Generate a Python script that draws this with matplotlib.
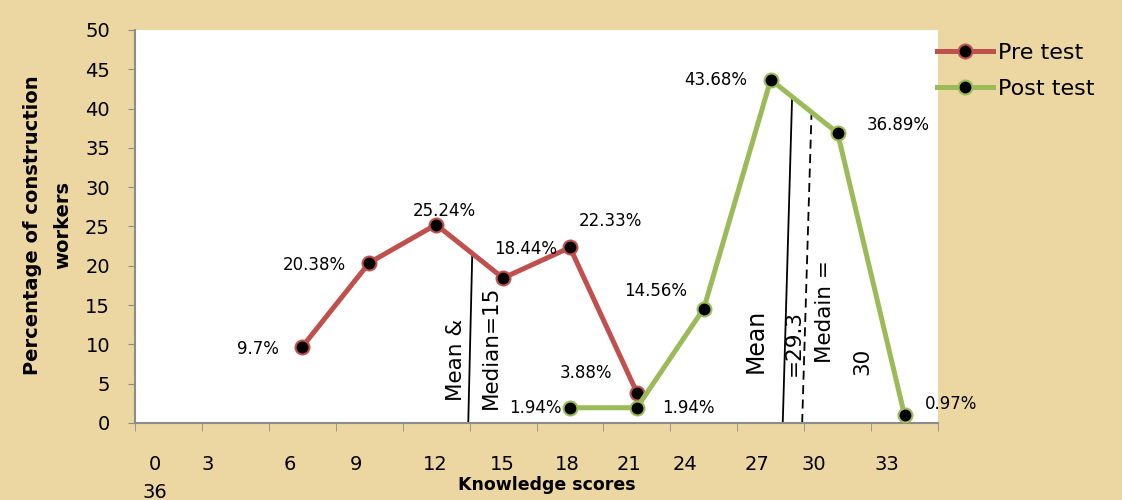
import numpy as np
import matplotlib
matplotlib.use("Agg")
import matplotlib.pyplot as plt

# knowledge score bins (12 categories on the x axis)
n_bins = 12
score_labels = ["0\n36", "3", "6", "9", "12", "15", "18", "21", "24", "27", "30", "33"]
# where Excel put the labels (category units, they don't sit under the ticks)
label_pos = [-0.2, 0.59, 1.82, 2.8, 3.98, 4.99, 5.96, 6.88, 7.72, 8.8, 9.65, 10.74]

pre_bins = [2, 3, 4, 5, 6, 7]
pre_vals = [9.7, 20.38, 25.24, 18.44, 22.33, 3.88]
post_bins = [6, 7, 8, 9, 10, 11]
post_vals = [1.94, 1.94, 14.56, 43.68, 36.89, 0.97]

# data label offsets (pixels) and alignment
pre_off = [(-23, -2, "right"), (-23, -2, "right"), (8, 14, "center"),
           (23, 29, "center"), (40, 26, "center"), (-51, 20, "center")]
post_off = [(-8, 0, "right"), (51, 0, "center"), (-48, 18, "center"),
            (-55, 0, "center"), (61, 8, "center"), (47, 11, "center")]

bg = "#ecd6a2"
red = "#c0504d"
green = "#9bbb59"

fig = plt.figure(figsize=(11.22, 5.0), dpi=100, facecolor=bg)
ax = fig.add_axes([135 / 1122, 77 / 500, 803 / 1122, 393 / 500])
ax.set_facecolor("white")

ax.plot(pre_bins, pre_vals, color=red, lw=3.6, marker="o", ms=10,
        mfc="black", mec=red, mew=1.5, label="Pre test", zorder=3)
ax.plot(post_bins, post_vals, color=green, lw=3.6, marker="o", ms=10,
        mfc="black", mec=green, mew=1.5, label="Post test", zorder=3)

for x, y, (dx, dy, ha) in zip(pre_bins, pre_vals, pre_off):
    ax.annotate(f"{y:g}%", (x, y), xytext=(dx, dy), textcoords="offset pixels",
                ha=ha, va="center", fontsize=12)
for x, y, (dx, dy, ha) in zip(post_bins, post_vals, post_off):
    ax.annotate(f"{y:g}%", (x, y), xytext=(dx, dy), textcoords="offset pixels",
                ha=ha, va="center", fontsize=12)

# mean / median markers (slightly slanted, as drawn by hand in the original)
x0, x1 = 4.48, 4.54
ax.plot([x0, x1], [0, np.interp(x1, pre_bins, pre_vals)], color="black", lw=1.3, zorder=2)
x0, x1 = 9.18, 9.32
ax.plot([x0, x1], [0, np.interp(x1, post_bins, post_vals)], color="black", lw=1.3, zorder=2)
x0, x1 = 9.47, 9.61
ax.plot([x0, x1], [0, np.interp(x1, post_bins, post_vals)], color="black", lw=1.3,
        ls=(0, (5, 3)), zorder=2)

ax.text(4.30, 8.0, "Mean &", rotation=90, ha="center", va="center", fontsize=15.5)
ax.text(4.82, 9.67, "Median=15", rotation=90, ha="center", va="center", fontsize=15.5)
ax.text(8.78, 10.4, "Mean", rotation=90, ha="center", va="center", fontsize=17)
ax.text(9.34, 10.2, "=29.3", rotation=90, ha="center", va="center", fontsize=15.5)
ax.text(9.81, 14.2, "Medain =", rotation=90, ha="center", va="center", fontsize=15.5)
ax.text(10.37, 7.9, "30", rotation=90, ha="center", va="center", fontsize=15.5)

ax.set_xlim(-0.5, n_bins - 0.5)
ax.set_ylim(0, 50)
ax.set_yticks(np.arange(0, 51, 5))
ax.tick_params(axis="y", length=5, color="#8c8c8c", labelsize=14, pad=13)

ax.set_xticks(np.arange(n_bins + 1) - 0.5, minor=True)
ax.set_xticks(label_pos)
ax.set_xticklabels(score_labels, fontsize=14, linespacing=1.6)
ax.tick_params(axis="x", which="major", length=0, pad=23)
ax.tick_params(axis="x", which="minor", length=6, color="#8c8c8c")

for s in ["top", "right"]:
    ax.spines[s].set_visible(False)
for s in ["left", "bottom"]:
    ax.spines[s].set_color("#8c8c8c")
    ax.spines[s].set_linewidth(1.5)

ax.text((547 - 135) / 803, (423 - 485) / 393, "Knowledge scores", transform=ax.transAxes,
        ha="center", va="center", fontsize=12.5, fontweight="bold")
ax.set_ylabel("Percentage of construction\nworkers", fontsize=14, fontweight="bold",
              linespacing=1.7)
ax.yaxis.set_label_coords(-(135 - 72) / 803, (423 - 225) / 393)

fig.legend(loc="upper left", bbox_to_anchor=(937 / 1122, 1 - 43 / 500), frameon=False,
           fontsize=16, handlelength=2.5, handletextpad=0.25, labelspacing=0.7,
           borderaxespad=0, borderpad=0)

fig.savefig("out.png", dpi=100, facecolor=bg)
